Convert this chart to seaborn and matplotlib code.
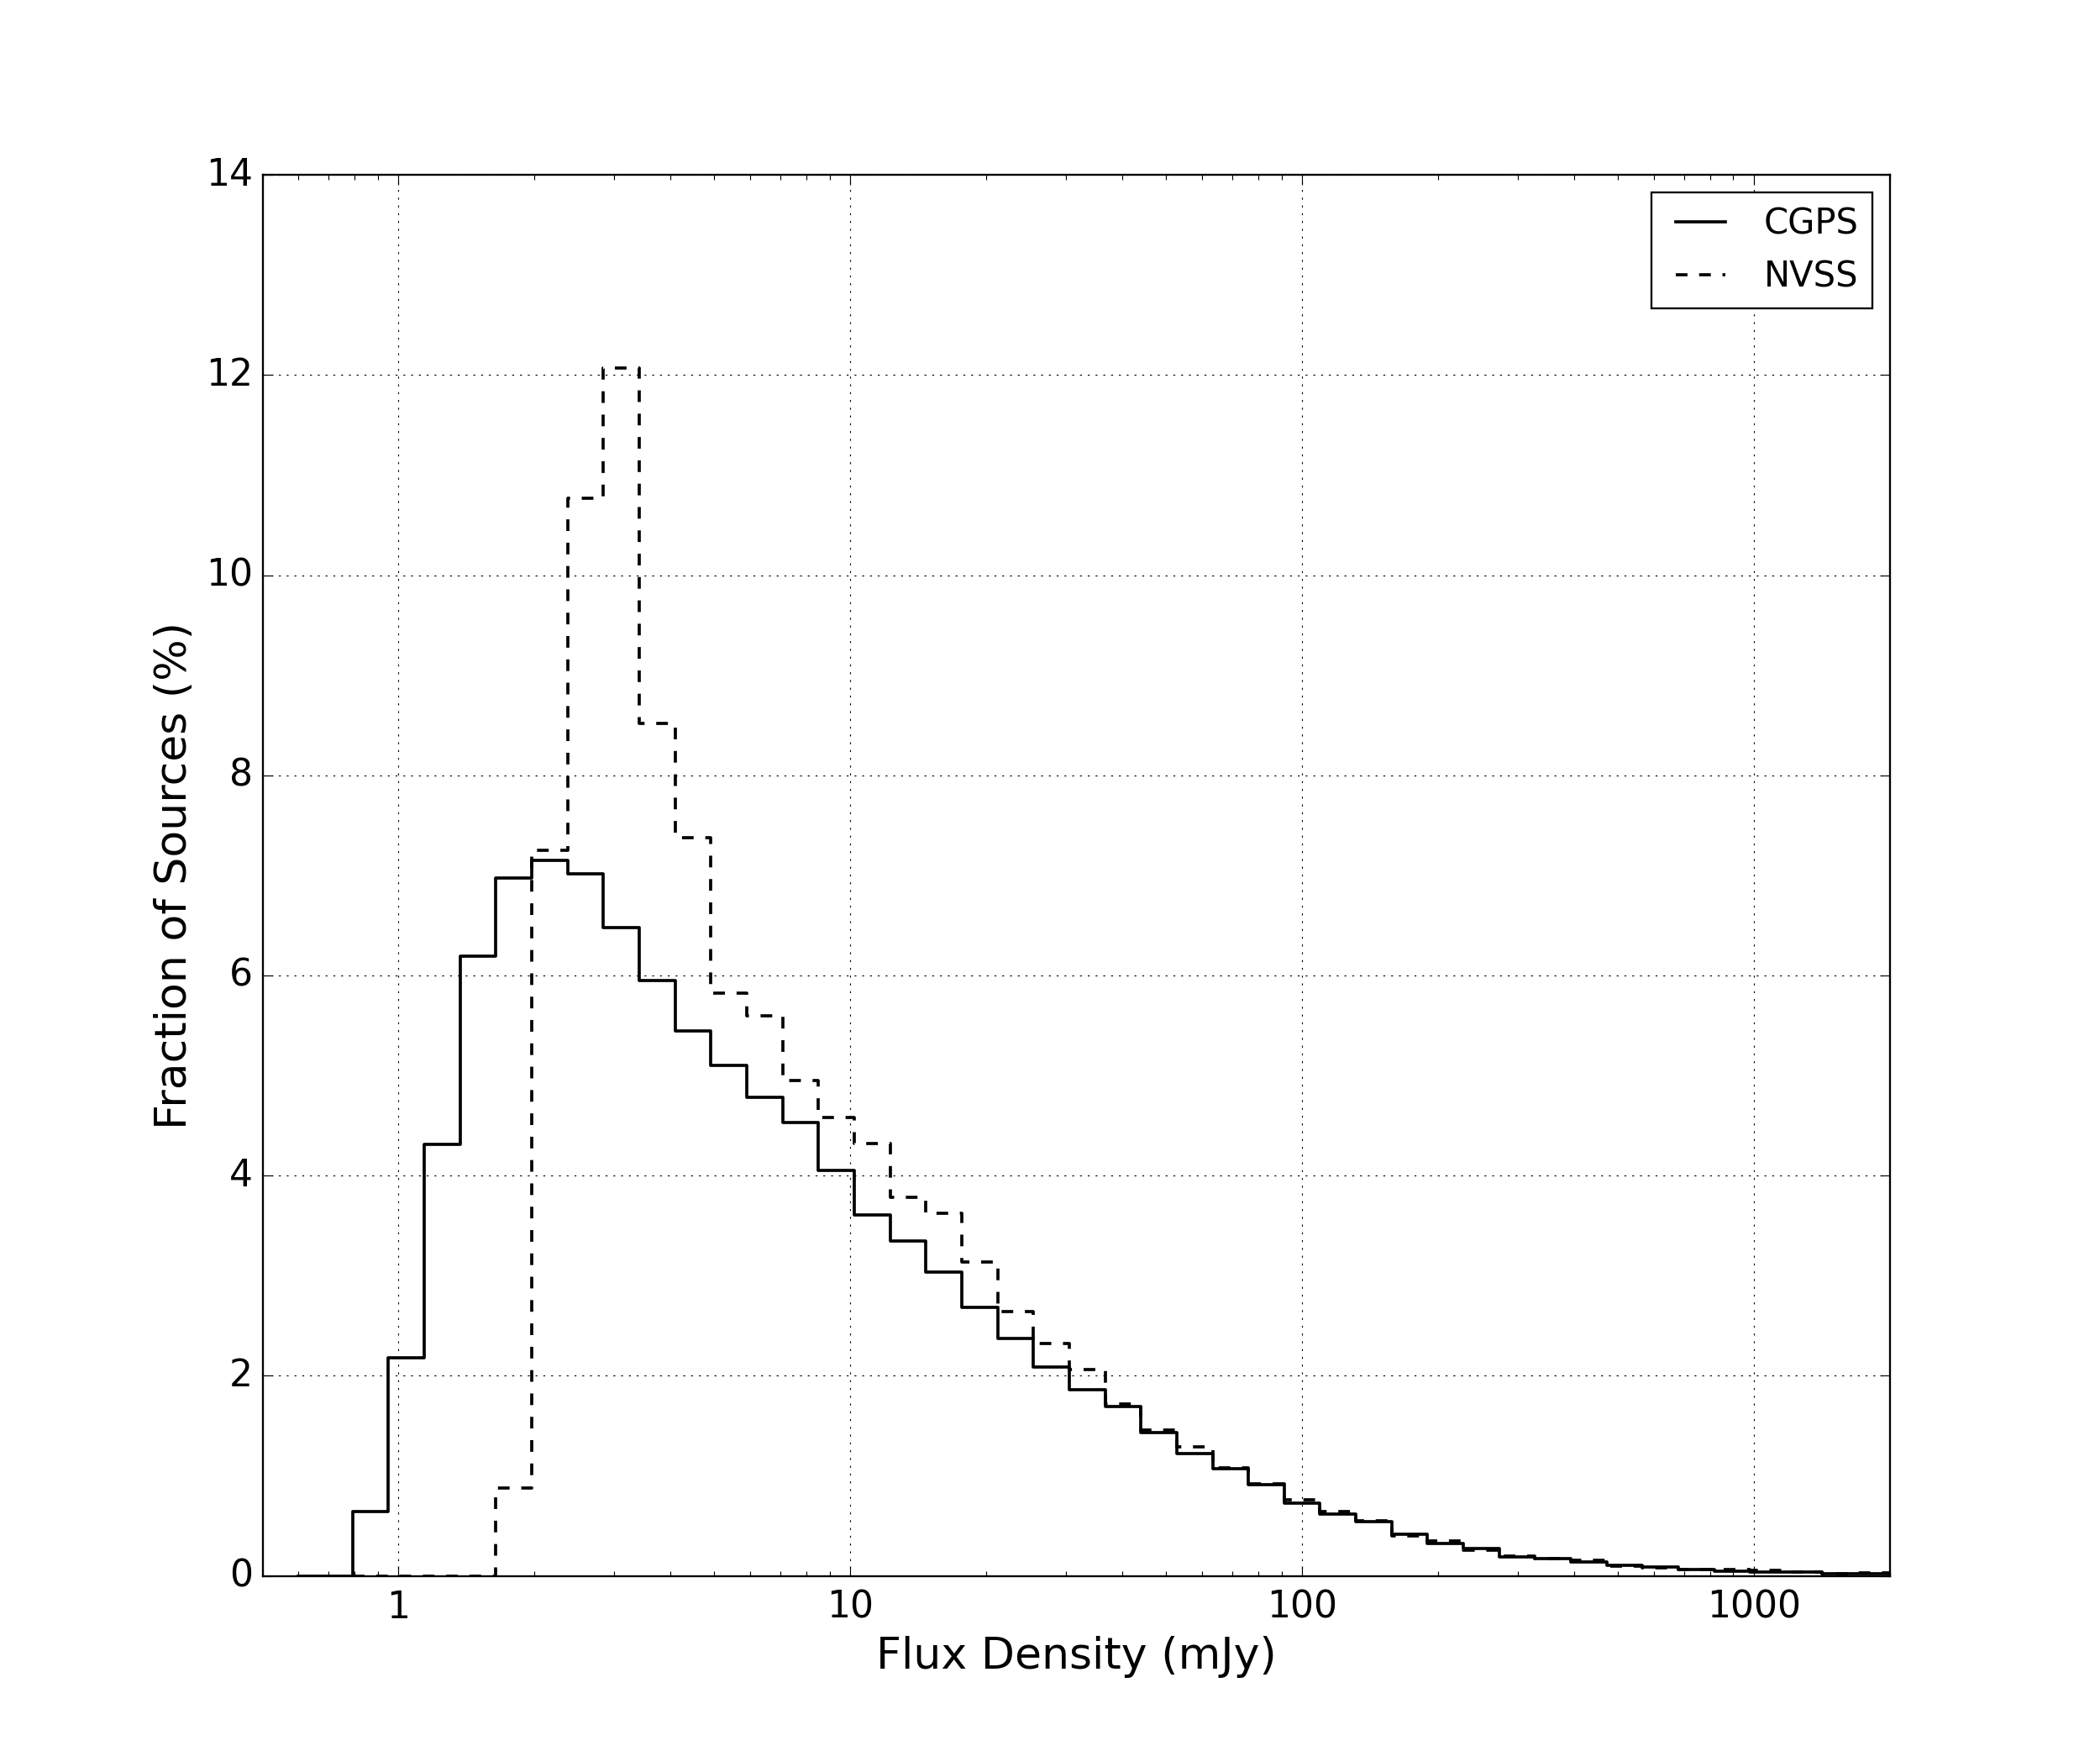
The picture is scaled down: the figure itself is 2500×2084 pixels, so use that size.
import numpy as np
import matplotlib
matplotlib.use('Agg')
import matplotlib.pyplot as plt
from matplotlib.ticker import FuncFormatter, NullFormatter
import seaborn as sns

# Histogram bins (mJy), equal width in log10, shared by both surveys
bin_edges = np.logspace(-0.1015, 3.3084, 44)
cgps_first_edge = 0.6  # CGPS histogram starts one (empty) bin further left

# Fraction of sources (%) per bin
cgps_pct = [0.64, 2.18, 4.31, 6.19, 6.97, 7.15, 7.02, 6.48, 5.95, 5.45,
            5.10, 4.78, 4.53, 4.05, 3.61, 3.35, 3.04, 2.68, 2.37, 2.09,
            1.86, 1.69, 1.43, 1.22, 1.07, 0.91, 0.73, 0.62, 0.54, 0.42,
            0.32, 0.27, 0.19, 0.175, 0.14, 0.105, 0.085, 0.065, 0.05, 0.04,
            0.035, 0.02, 0.02]
nvss_pct = [0.0, 0.0, 0.0, 0.0, 0.88, 7.25, 10.77, 12.07, 8.52, 7.38,
            5.82, 5.60, 4.95, 4.58, 4.32, 3.78, 3.62, 3.14, 2.64, 2.32,
            2.06, 1.72, 1.46, 1.29, 1.08, 0.92, 0.76, 0.64, 0.55, 0.40,
            0.35, 0.26, 0.20, 0.17, 0.155, 0.10, 0.08, 0.065, 0.062, 0.055,
            0.04, 0.025, 0.03]

x_ticks = [1, 10, 100, 1000]
y_ticks = [0, 2, 4, 6, 8, 10, 12, 14]

plt.style.use('classic')
plt.rcParams['font.family'] = ['DejaVu Sans']
plt.rcParams['figure.facecolor'] = 'white'
plt.rcParams['savefig.facecolor'] = 'white'

fig, ax = plt.subplots(figsize=(15, 12.505), dpi=500 / 3)
fig.subplots_adjust(left=0.125, right=0.9, bottom=0.1, top=0.9)
ax.set_xscale('log')

# step outlines: each edge carries the value of the bin to its right
cgps_x = np.concatenate([[cgps_first_edge], bin_edges])
cgps_y = [0.0] + cgps_pct + [cgps_pct[-1]]
nvss_x = bin_edges
nvss_y = nvss_pct + [nvss_pct[-1]]

sns.lineplot(x=cgps_x, y=cgps_y, estimator=None, sort=False, ax=ax,
             drawstyle='steps-post', color='k', linewidth=1.6, label='CGPS')
sns.lineplot(x=nvss_x, y=nvss_y, estimator=None, sort=False, ax=ax,
             drawstyle='steps-post', color='k', linewidth=1.6,
             linestyle='--', label='NVSS')

ax.set_xlim(0.5, 2000)
ax.set_ylim(0, 14)
ax.set_xticks(x_ticks)
ax.set_yticks(y_ticks)
ax.xaxis.set_major_formatter(FuncFormatter(lambda v, p: f'{v:g}'))
ax.xaxis.set_minor_formatter(NullFormatter())
ax.tick_params(which='major', length=5, labelsize=19)
ax.tick_params(axis='x', which='major', pad=7)
ax.tick_params(axis='y', which='major', pad=5)
ax.tick_params(which='minor', length=2.5)
ax.grid(True, which='major', color='k', linestyle=':', linewidth=0.5)

ax.set_xlabel('Flux Density (mJy)', fontsize=22.5)
ax.set_ylabel('Fraction of Sources (%)', fontsize=22.5)
ax.legend(loc='upper right', fontsize=18)

fig.savefig('out.png', dpi=500 / 3)
